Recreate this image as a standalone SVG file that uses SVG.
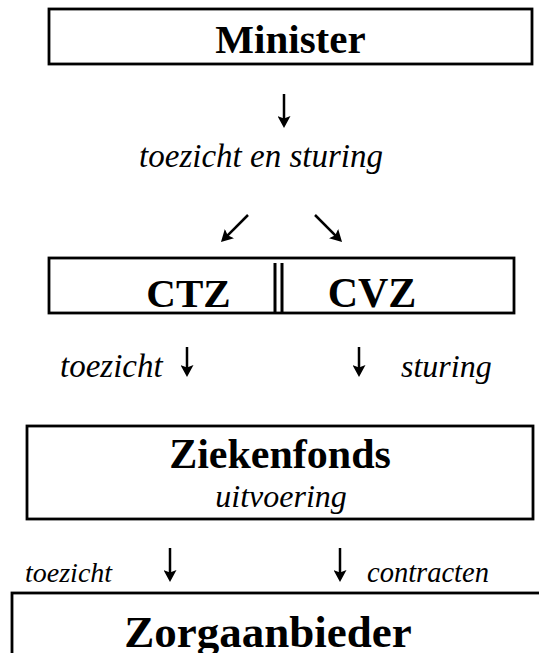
<svg xmlns="http://www.w3.org/2000/svg" width="539" height="653" viewBox="0 0 539 653">
<style>
.box{fill:none;stroke:#000;stroke-width:2.8}
.b{font-family:'Liberation Serif','Times New Roman',serif;font-weight:bold;fill:#000}
.i{font-family:'Liberation Serif','Times New Roman',serif;font-style:italic;fill:#000}
.c{stroke:#000;stroke-width:2.5;fill:none;marker-end:url(#ah)}
</style>
<defs>
<marker id="ah" markerUnits="userSpaceOnUse" markerWidth="12" markerHeight="13" viewBox="0 0 12 13" refX="6" refY="6.5" orient="auto"><path d="M0,0 L12,6.5 L0,13 L2.5,6.5 z" fill="#000"/></marker>
</defs>
<rect width="539" height="653" fill="#fff"/>
<g id="minister">
<rect class="box" x="49" y="9" width="483" height="55"/>
<text class="b" x="290.5" y="53" font-size="41" text-anchor="middle">Minister</text>
</g>
<g id="ctz-cvz">
<rect class="box" x="49" y="258" width="465" height="55"/>
<line x1="275" y1="263" x2="275" y2="313" stroke="#000" stroke-width="3"/>
<line x1="282" y1="263" x2="282" y2="313" stroke="#000" stroke-width="3"/>
<text class="b" x="188.5" y="307" font-size="41" text-anchor="middle">CTZ</text>
<text class="b" x="372" y="307" font-size="42" text-anchor="middle">CVZ</text>
</g>
<g id="ziekenfonds">
<rect class="box" x="27" y="426" width="506" height="93"/>
<text class="b" x="280" y="468" font-size="42" text-anchor="middle">Ziekenfonds</text>
<text class="i" x="281" y="507" font-size="32" text-anchor="middle">uitvoering</text>
</g>
<g id="zorgaanbieder">
<rect class="box" x="12" y="593" width="540" height="80"/>
<text class="b" x="268" y="647" font-size="45" text-anchor="middle">Zorgaanbieder</text>
</g>
<g id="labels">
<text class="i" x="261" y="167" font-size="33" text-anchor="middle">toezicht en sturing</text>
<text class="i" x="60" y="377" font-size="33">toezicht</text>
<text class="i" x="401" y="377" font-size="32">sturing</text>
<text class="i" x="25" y="582" font-size="28">toezicht</text>
<text class="i" x="367" y="582" font-size="28.5">contracten</text>
</g>
<g id="connectors">
<line class="c" x1="284" y1="94" x2="284" y2="122"/>
<line class="c" x1="248" y1="215" x2="225.2" y2="237.8" stroke-width="3"/>
<line class="c" x1="315" y1="215" x2="337.8" y2="237.8" stroke-width="3"/>
<line class="c" x1="187" y1="347" x2="187" y2="371"/>
<line class="c" x1="359" y1="347" x2="359" y2="371"/>
<line class="c" x1="170" y1="548" x2="170" y2="576"/>
<line class="c" x1="340" y1="548" x2="340" y2="576"/>
</g>
</svg>
